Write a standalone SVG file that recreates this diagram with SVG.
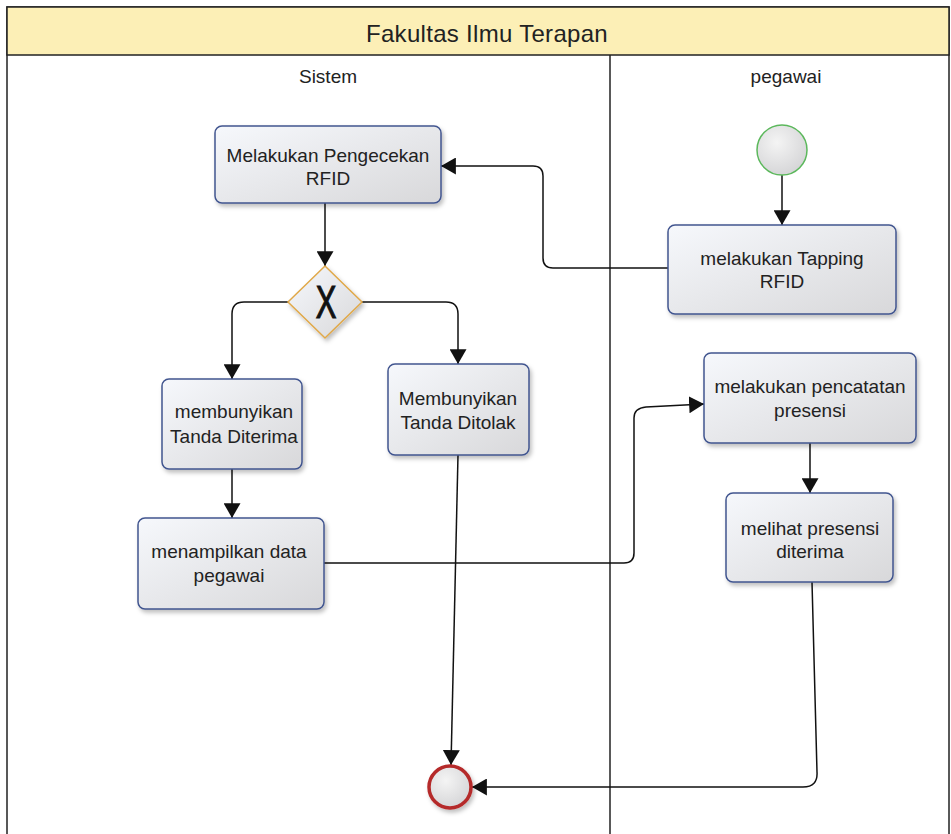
<svg xmlns="http://www.w3.org/2000/svg" width="951" height="834" viewBox="0 0 951 834">
<style>
.lbl{font-family:"Liberation Sans",Arial,sans-serif;font-size:19px;fill:#222;text-anchor:middle}
.task{fill:url(#tg);stroke:#41558f;stroke-width:1.5;filter:url(#sh)}
.conn{fill:none;stroke:#111;stroke-width:1.5;marker-end:url(#arr)}
</style>
<defs>
<linearGradient id="tg" x1="0" y1="0" x2="1" y2="1">
<stop offset="0" stop-color="#f6f8fc"/>
<stop offset="1" stop-color="#d8d8da"/>
</linearGradient>
<radialGradient id="cg" cx="0.4" cy="0.35" r="0.7">
<stop offset="0" stop-color="#f4f4f4"/>
<stop offset="1" stop-color="#d4d4d6"/>
</radialGradient>
<filter id="sh" x="-10%" y="-10%" width="130%" height="130%">
<feDropShadow dx="2" dy="3" stdDeviation="2" flood-color="#000" flood-opacity="0.25"/>
</filter>
<marker id="arr" viewBox="0 0 14 16" refX="14" refY="8" markerWidth="15" markerHeight="17" markerUnits="userSpaceOnUse" orient="auto">
<path d="M0,0 L14,8 L0,16 Z" fill="#111"/>
</marker>
</defs>
<rect width="951" height="834" fill="#fff"/>
<g id="pool">
<rect x="7" y="7" width="942" height="840" fill="#fff" stroke="#222" stroke-width="1.5"/>
<rect x="7" y="7" width="942" height="48" fill="#fcefb6" stroke="#222" stroke-width="1.5"/>
<text x="487" y="42" font-family="'Liberation Sans',Arial,sans-serif" font-size="24" fill="#222" text-anchor="middle" letter-spacing="0.3">Fakultas Ilmu Terapan</text>
<line x1="610" y1="55" x2="610" y2="834" stroke="#222" stroke-width="1.5"/>
<text class="lbl" x="328" y="83">Sistem</text>
<text class="lbl" x="786" y="83">pegawai</text>
</g>
<g id="connectors">
<path class="conn" d="M782,175 L782,225"/>
<path class="conn" d="M668,268 L553,268 Q543,268 543,258 L543,176 Q543,166 533,166 L441,166"/>
<path class="conn" d="M325,203 L325,266"/>
<path class="conn" d="M288,302 L244,302 Q232,302 232,314 L232,379"/>
<path class="conn" d="M362,302 L446,302 Q458,302 458,314 L458,364"/>
<path class="conn" d="M232,469 L232,518"/>
<path class="conn" d="M458,455 L451,765"/>
<path class="conn" d="M324,563 L624,563 Q634,563 634,553 L634,418 Q634,408 646,407 L704,404"/>
<path class="conn" d="M810,443 L810,493"/>
<path class="conn" d="M812,582 L817,772 Q818,787 803,787 L472,787"/>
</g>
<g id="start">
<circle cx="782" cy="150" r="25" fill="url(#cg)" stroke="#5cb85c" stroke-width="1.5"/>
</g>
<g id="end">
<circle cx="450" cy="787" r="21" fill="url(#cg)" stroke="#b52a2a" stroke-width="3.5" filter="url(#sh)"/>
</g>
<g id="pengecekan">
<rect class="task" x="215" y="126" width="226" height="77" rx="7"/>
<text class="lbl" x="328" y="162">Melakukan Pengecekan</text>
<text class="lbl" x="328" y="185">RFID</text>
</g>
<g id="gateway">
<path d="M325,266 L362,302 L325,338 L288,302 Z" fill="url(#tg)" stroke="#e0a848" stroke-width="1.5" filter="url(#sh)"/>
<text transform="translate(326,318) scale(0.66,1)" x="0" y="0" font-family="'Liberation Sans',Arial,sans-serif" font-size="47" fill="#111" stroke="#111" stroke-width="1.2" text-anchor="middle">X</text>
</g>
<g id="tapping">
<rect class="task" x="668" y="225" width="228" height="89" rx="7"/>
<text class="lbl" x="782" y="265">melakukan Tapping</text>
<text class="lbl" x="782" y="288">RFID</text>
</g>
<g id="diterima">
<rect class="task" x="162" y="379" width="140" height="90" rx="7"/>
<text class="lbl" x="234" y="418">membunyikan</text>
<text class="lbl" x="234" y="443">Tanda Diterima</text>
</g>
<g id="ditolak">
<rect class="task" x="388" y="364" width="141" height="91" rx="7"/>
<text class="lbl" x="458" y="405">Membunyikan</text>
<text class="lbl" x="458" y="429">Tanda Ditolak</text>
</g>
<g id="menampilkan">
<rect class="task" x="138" y="518" width="186" height="91" rx="7"/>
<text class="lbl" x="229" y="558">menampilkan data</text>
<text class="lbl" x="229" y="582">pegawai</text>
</g>
<g id="pencatatan">
<rect class="task" x="704" y="353" width="212" height="90" rx="7"/>
<text class="lbl" x="810" y="393">melakukan pencatatan</text>
<text class="lbl" x="810" y="417">presensi</text>
</g>
<g id="melihat">
<rect class="task" x="726" y="493" width="167" height="89" rx="7"/>
<text class="lbl" x="810" y="535">melihat presensi</text>
<text class="lbl" x="810" y="558">diterima</text>
</g>
</svg>
